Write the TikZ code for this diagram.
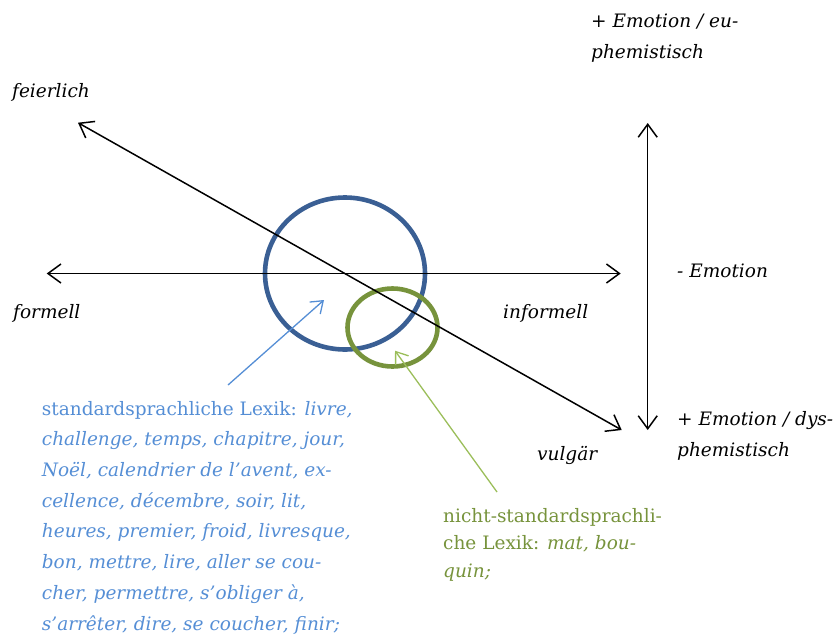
\documentclass[tikz,border=0pt]{standalone}
\usepackage{fontspec}
\setmainfont{DejaVu Serif}
\usetikzlibrary{arrows.meta,shapes.geometric}

\definecolor{circblue}{RGB}{58,95,148}
\definecolor{textblue}{RGB}{85,142,213}
\definecolor{circgreen}{RGB}{119,147,60}
\definecolor{linegreen}{RGB}{155,190,90}

\tikzset{
  axis/.style={line width=1.5pt, {Straight Barb[length=13pt,width=19pt]}-{Straight Barb[length=13pt,width=19pt]}},
  pointer/.style={line width=1.3pt, -{Straight Barb[length=11pt,width=16pt]}},
  lexcirc/.style={ellipse, draw, line width=4.6pt, inner sep=0pt},
  % multi-line nodes: base west is the baseline of the last line
  lab/.style={anchor=base west, inner sep=0pt, align=left,
    font=\fontsize{18.5}{31}\selectfont\itshape},
  lextext/.style={anchor=base west, inner sep=0pt, align=left,
    font=\fontsize{18.5}{30.7}\selectfont}
}

\begin{document}
\begin{tikzpicture}[x=1pt,y=-1pt]
    \useasboundingbox (0,0) rectangle (834,635);

    % Circles
    \node[lexcirc, circblue, minimum width=160pt, minimum height=152pt] (stdcirc) at (345,273.5) {};
    \node[lexcirc, circgreen, minimum width=90pt, minimum height=78pt] (nstdcirc) at (392.5,327.5) {};

    % Axes
    \coordinate (formal) at (46.7,273.5);
    \coordinate (informal) at (620.7,273.5);
    \coordinate (solemn) at (78,122.7);
    \coordinate (vulgar) at (621.7,430);
    \coordinate (euph) at (647.7,123);
    \coordinate (dysph) at (647.7,430);
    \draw[axis] (formal) -- (informal);
    \draw[axis] (solemn) -- (vulgar);
    \draw[axis] (euph) -- (dysph);

    % Axis labels
    \node[lab] (feierlich) at (12,97) {feierlich};
    \node[lab] (formell) at (13,318) {formell};
    \node[lab] (informell) at (503,318) {informell};
    \node[lab] (vulgaer) at (537,460) {vulgär};
    \node[lab] (eu) at (591,58) {+ Emotion / eu-\\phemistisch};
    \node[lab] (neutral) at (677,277) {- Emotion};
    \node[lab] (dys) at (677,456) {+ Emotion / dys-\\phemistisch};

    % Lexik
    \node[lextext, textblue] (stdtext) at (41.7,630) {standardsprachliche Lexik: \textit{livre,}\\
      \textit{challenge, temps, chapitre, jour,}\\
      \textit{Noël, calendrier de l'avent, ex-}\\
      \textit{cellence, décembre, soir, lit,}\\
      \textit{heures, premier, froid, livresque,}\\
      \textit{bon, mettre, lire, aller se cou-}\\
      \textit{cher, permettre, s'obliger à,}\\
      \textit{s'arrêter, dire, se coucher, finir;}};
    \node[lextext, circgreen, font=\fontsize{18.5}{27.5}\selectfont] (nstdtext) at (443,577) {nicht-standardsprachli-\\
      che Lexik: \textit{mat, bou-}\\
      \textit{quin;}};

    \coordinate (stdtail) at (228,385);
    \coordinate (stdtip) at (324,300);
    \coordinate (nstdtail) at (497,492);
    \coordinate (nstdtip) at (395,350.7);
    \draw[pointer, textblue] (stdtail) -- (stdtip);
    \draw[pointer, linegreen] (nstdtail) -- (nstdtip);
\end{tikzpicture}
\end{document}
